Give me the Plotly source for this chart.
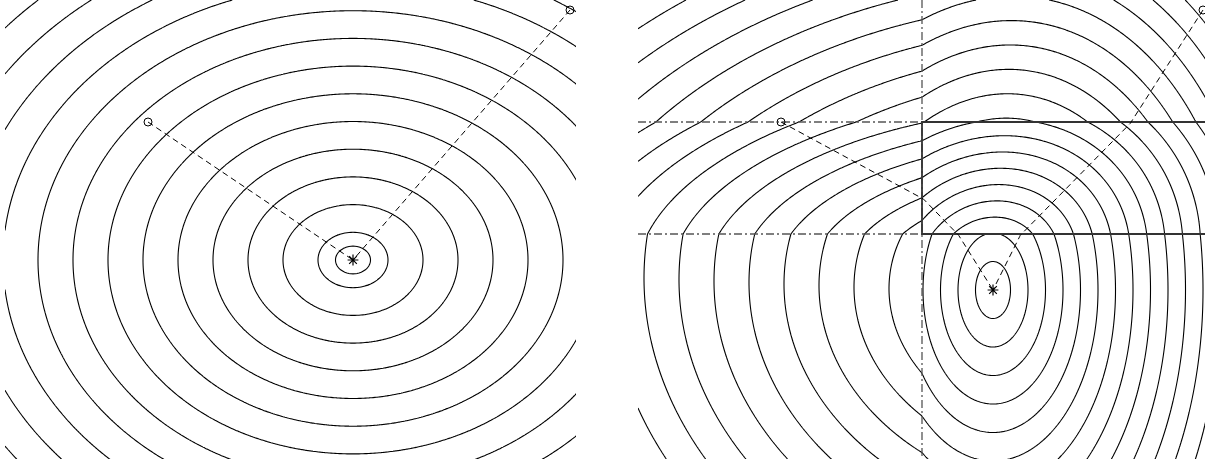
import numpy as np
import plotly.graph_objects as go

FIG_W, FIG_H = 1205, 459

# panel placement (pixels) and panel coordinate extents
LEFT_X0, LEFT_X1 = 5, 576
RIGHT_X0 = 638
PANEL_H = 459

# start points of the two descent paths (same points in both panels)
START_X = [143, 565]
START_Y = [122, 10]

# ---- left panel: plain quadratic bowl ----
L_STAR_X, L_STAR_Y = 348, 260
L_SCALE_X, L_SCALE_Y = 35.0, 27.7
L_INNER_LEVEL = 0.5
L_LEVEL_START, L_LEVEL_END = 1, 16

# ---- right panel: bowl seen through a piecewise-linear warp ----
R_STAR_X, R_STAR_Y = 355, 290
X_BREAK = 284
Y_BREAKS = [122, 234]
SX_RIGHT, SX_LEFT = 17.5, 35.0
SY_BOTTOM = 28.5
SHEAR_RIGHT, SHEAR_LEFT = 0.0, -0.0015
P_MID, Q_MID = 0.0066, 0.0614
P_TOP, Q_TOP = 0.0031, 0.0410
R_LEVEL_START, R_LEVEL_END = 1, 40


def warp(X, Y):
    X = np.asarray(X, dtype=float)
    Y = np.asarray(Y, dtype=float)
    y_lo, y_hi = Y_BREAKS
    right = X >= X_BREAK
    hu = np.where(right, (X - R_STAR_X) / SX_RIGHT,
                  (X_BREAK - R_STAR_X) / SX_RIGHT + (X - X_BREAK) / SX_LEFT)
    hv = np.where(right, SHEAR_RIGHT * (X - R_STAR_X),
                  SHEAR_RIGHT * (X_BREAK - R_STAR_X) + SHEAR_LEFT * (X - X_BREAK))
    gu = np.where(Y >= y_hi, 0.0,
                  np.where(Y >= y_lo, P_MID * (Y - y_hi),
                           P_MID * (y_lo - y_hi) + P_TOP * (Y - y_lo)))
    v_hi = (y_hi - R_STAR_Y) / SY_BOTTOM
    gv = np.where(Y >= y_hi, (Y - R_STAR_Y) / SY_BOTTOM,
                  np.where(Y >= y_lo, v_hi + Q_MID * (Y - y_hi),
                           v_hi + Q_MID * (y_lo - y_hi) + Q_TOP * (Y - y_lo)))
    return hu + gu, hv + gv


def unwarp(u, v):
    """Invert the piecewise-affine warp cell by cell."""
    xs = [X_BREAK - 20.0, X_BREAK + 20.0]
    ys = [Y_BREAKS[0] - 20.0, 0.5 * (Y_BREAKS[0] + Y_BREAKS[1]), Y_BREAKS[1] + 20.0]
    for x0 in xs:
        for y0 in ys:
            u0, v0 = warp(x0, y0)
            ux, vx = [a - b for a, b in zip(warp(x0 + 1, y0), (u0, v0))]
            uy, vy = [a - b for a, b in zip(warp(x0, y0 + 1), (u0, v0))]
            A = np.array([[ux, uy], [vx, vy]], dtype=float)
            d = np.linalg.solve(A, np.array([u - u0, v - v0], dtype=float))
            X, Y = x0 + d[0], y0 + d[1]
            in_x = (X < X_BREAK + 1e-6) if x0 < X_BREAK else (X >= X_BREAK - 1e-6)
            if y0 < Y_BREAKS[0]:
                in_y = Y < Y_BREAKS[0] + 1e-6
            elif y0 < Y_BREAKS[1]:
                in_y = (Y >= Y_BREAKS[0] - 1e-6) and (Y < Y_BREAKS[1] + 1e-6)
            else:
                in_y = Y >= Y_BREAKS[1] - 1e-6
            if in_x and in_y:
                return X, Y
    return np.nan, np.nan


fig = go.Figure()

# left panel contours
lx = np.arange(0, LEFT_X1 - LEFT_X0 + 2, 2.0)
ly = np.arange(0, PANEL_H + 2, 2.0)
LX, LY = np.meshgrid(lx, ly)
lz = np.round(np.hypot((LX - L_STAR_X) / L_SCALE_X, (LY - L_STAR_Y) / L_SCALE_Y), 4)

line_style = dict(color="black", width=1.1)
for start, end in [(L_LEVEL_START, L_LEVEL_END), (L_INNER_LEVEL, L_INNER_LEVEL)]:
    fig.add_trace(go.Contour(
        x=lx, y=ly, z=lz, xaxis="x", yaxis="y",
        contours=dict(coloring="none", start=start, end=end, size=1),
        line=line_style, showscale=False, hoverinfo="skip"))

# right panel contours
rx = np.arange(0, FIG_W - RIGHT_X0 + 2, 1.5)
ry = np.arange(0, PANEL_H + 2, 1.5)
RX, RY = np.meshgrid(rx, ry)
ru, rv = warp(RX, RY)
rz = np.round(np.hypot(ru, rv), 4)
fig.add_trace(go.Contour(
    x=rx, y=ry, z=rz, xaxis="x2", yaxis="y2",
    contours=dict(coloring="none", start=R_LEVEL_START, end=R_LEVEL_END, size=1),
    line=dict(color="black", width=1.1, smoothing=0), showscale=False, hoverinfo="skip"))

# partition lines in the right panel
grid_line = dict(color="#555555", width=1.3, dash="8px,3px,2px,3px")
box_line = dict(color="#333333", width=1.8)
right_w = FIG_W - RIGHT_X0 + 5
fig.add_trace(go.Scatter(x=[X_BREAK, X_BREAK], y=[0, PANEL_H], mode="lines",
                         line=grid_line, xaxis="x2", yaxis="y2", hoverinfo="skip"))
for yb in Y_BREAKS:
    fig.add_trace(go.Scatter(x=[0, X_BREAK], y=[yb, yb], mode="lines",
                             line=grid_line, xaxis="x2", yaxis="y2", hoverinfo="skip"))
fig.add_trace(go.Scatter(
    x=[right_w, X_BREAK, X_BREAK, right_w], y=[Y_BREAKS[0], Y_BREAKS[0], Y_BREAKS[1], Y_BREAKS[1]],
    mode="lines", line=box_line, xaxis="x2", yaxis="y2", hoverinfo="skip"))

path_line = dict(color="black", width=1, dash="6px,4px")

# left panel descent paths
for sx, sy in zip(START_X, START_Y):
    fig.add_trace(go.Scatter(x=[sx, L_STAR_X], y=[sy, L_STAR_Y], mode="lines",
                             line=path_line, xaxis="x", yaxis="y", hoverinfo="skip"))

# right panel descent paths: straight in warped coordinates
for sx, sy in zip(START_X, START_Y):
    eu, ev = warp(sx, sy)
    pts = [unwarp(t * eu, t * ev) for t in np.linspace(1.0, 0.0, 400)]
    fig.add_trace(go.Scatter(x=[p[0] for p in pts], y=[p[1] for p in pts], mode="lines",
                             line=path_line, xaxis="x2", yaxis="y2", hoverinfo="skip"))

for xa, ya, star in [("x", "y", (L_STAR_X, L_STAR_Y)), ("x2", "y2", (R_STAR_X, R_STAR_Y))]:
    fig.add_trace(go.Scatter(x=START_X, y=START_Y, mode="markers", xaxis=xa, yaxis=ya,
                             marker=dict(symbol="circle-open", size=8, color="black",
                                         line=dict(width=1)), hoverinfo="skip"))
    fig.add_trace(go.Scatter(x=[star[0]], y=[star[1]], mode="markers", xaxis=xa, yaxis=ya,
                             marker=dict(symbol="asterisk-open", size=9, color="black",
                                         line=dict(width=1.2)), hoverinfo="skip"))

axis_common = dict(visible=False, showgrid=False, zeroline=False, fixedrange=True)
fig.update_layout(
    width=FIG_W, height=FIG_H, margin=dict(l=0, r=0, t=0, b=0),
    paper_bgcolor="white", plot_bgcolor="white", showlegend=False,
    xaxis=dict(domain=[LEFT_X0 / FIG_W, LEFT_X1 / FIG_W], range=[0, LEFT_X1 - LEFT_X0], **axis_common),
    yaxis=dict(domain=[0, 1], range=[PANEL_H, 0], **axis_common),
    xaxis2=dict(domain=[RIGHT_X0 / FIG_W, 1], range=[0, FIG_W - RIGHT_X0], **axis_common),
    yaxis2=dict(domain=[0, 1], range=[PANEL_H, 0], anchor="x2", **axis_common),
)
fig.write_html("out.html")
